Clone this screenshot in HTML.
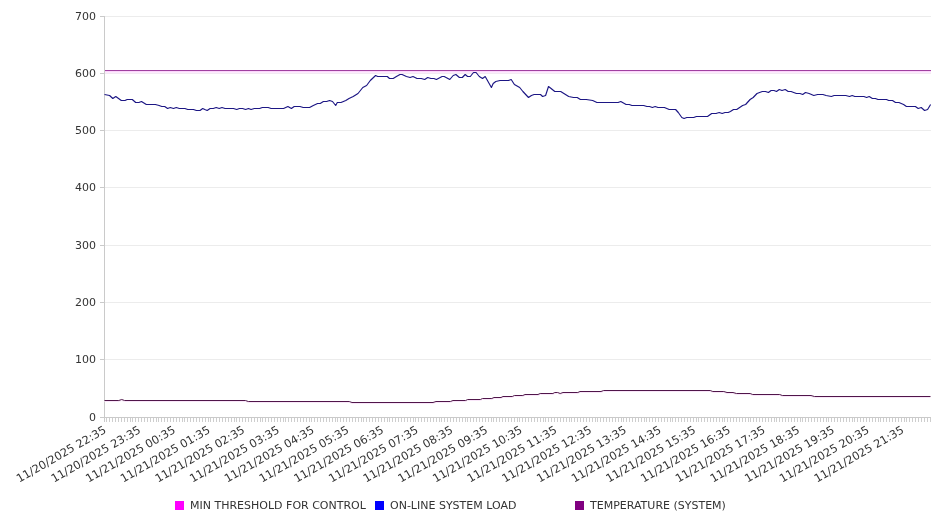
<!DOCTYPE html>
<html><head><meta charset="utf-8"><title>System Load Chart</title>
<style>
html,body{margin:0;padding:0;background:#fff;}
body{width:946px;height:526px;overflow:hidden;}
svg{display:block;}
svg text{font-family:"DejaVu Sans","Liberation Sans",sans-serif;font-size:11px;fill:#333;}
</style></head><body>
<svg width="946" height="526" viewBox="0 0 946 526">
<rect width="946" height="526" fill="#fff"/>
<g stroke="#ececec" stroke-width="1" shape-rendering="crispEdges">
<line x1="105" y1="16.5" x2="931" y2="16.5"/>
<line x1="105" y1="73.5" x2="931" y2="73.5"/>
<line x1="105" y1="130.5" x2="931" y2="130.5"/>
<line x1="105" y1="187.5" x2="931" y2="187.5"/>
<line x1="105" y1="245.5" x2="931" y2="245.5"/>
<line x1="105" y1="302.5" x2="931" y2="302.5"/>
<line x1="105" y1="359.5" x2="931" y2="359.5"/>
</g>
<g stroke="#cacaca" stroke-width="1" shape-rendering="crispEdges">
<line x1="100" y1="16.5" x2="104" y2="16.5"/>
<line x1="100" y1="73.5" x2="104" y2="73.5"/>
<line x1="100" y1="130.5" x2="104" y2="130.5"/>
<line x1="100" y1="187.5" x2="104" y2="187.5"/>
<line x1="100" y1="245.5" x2="104" y2="245.5"/>
<line x1="100" y1="302.5" x2="104" y2="302.5"/>
<line x1="100" y1="359.5" x2="104" y2="359.5"/>
<line x1="100" y1="417.5" x2="104" y2="417.5"/>
</g>
<g stroke="#cecece" stroke-width="1" shape-rendering="crispEdges">
<path d="M104.5,418V422M106.5,418V422M109.5,418V422M112.5,418V422M115.5,418V422M118.5,418V422M121.5,418V422M124.5,418V422M127.5,418V422M130.5,418V422M132.5,418V422M135.5,418V422M138.5,418V422M141.5,418V422M144.5,418V422M147.5,418V422M150.5,418V422M153.5,418V422M156.5,418V422M158.5,418V422M161.5,418V422M164.5,418V422M167.5,418V422M170.5,418V422M173.5,418V422M176.5,418V422M179.5,418V422M182.5,418V422M184.5,418V422M187.5,418V422M190.5,418V422M193.5,418V422M196.5,418V422M199.5,418V422M202.5,418V422M205.5,418V422M208.5,418V422M210.5,418V422M213.5,418V422M216.5,418V422M219.5,418V422M222.5,418V422M225.5,418V422M228.5,418V422M231.5,418V422M234.5,418V422M236.5,418V422M239.5,418V422M242.5,418V422M245.5,418V422M248.5,418V422M251.5,418V422M254.5,418V422M257.5,418V422M260.5,418V422M262.5,418V422M265.5,418V422M268.5,418V422M271.5,418V422M274.5,418V422M277.5,418V422M280.5,418V422M283.5,418V422M285.5,418V422M288.5,418V422M291.5,418V422M294.5,418V422M297.5,418V422M300.5,418V422M303.5,418V422M306.5,418V422M309.5,418V422M311.5,418V422M314.5,418V422M317.5,418V422M320.5,418V422M323.5,418V422M326.5,418V422M329.5,418V422M332.5,418V422M335.5,418V422M337.5,418V422M340.5,418V422M343.5,418V422M346.5,418V422M349.5,418V422M352.5,418V422M355.5,418V422M358.5,418V422M361.5,418V422M363.5,418V422M366.5,418V422M369.5,418V422M372.5,418V422M375.5,418V422M378.5,418V422M381.5,418V422M384.5,418V422M387.5,418V422M389.5,418V422M392.5,418V422M395.5,418V422M398.5,418V422M401.5,418V422M404.5,418V422M407.5,418V422M410.5,418V422M413.5,418V422M415.5,418V422M418.5,418V422M421.5,418V422M424.5,418V422M427.5,418V422M430.5,418V422M433.5,418V422M436.5,418V422M439.5,418V422M441.5,418V422M444.5,418V422M447.5,418V422M450.5,418V422M453.5,418V422M456.5,418V422M459.5,418V422M462.5,418V422M465.5,418V422M467.5,418V422M470.5,418V422M473.5,418V422M476.5,418V422M479.5,418V422M482.5,418V422M485.5,418V422M488.5,418V422M491.5,418V422M493.5,418V422M496.5,418V422M499.5,418V422M502.5,418V422M505.5,418V422M508.5,418V422M511.5,418V422M514.5,418V422M517.5,418V422M519.5,418V422M522.5,418V422M525.5,418V422M528.5,418V422M531.5,418V422M534.5,418V422M537.5,418V422M540.5,418V422M543.5,418V422M545.5,418V422M548.5,418V422M551.5,418V422M554.5,418V422M557.5,418V422M560.5,418V422M563.5,418V422M566.5,418V422M569.5,418V422M571.5,418V422M574.5,418V422M577.5,418V422M580.5,418V422M583.5,418V422M586.5,418V422M589.5,418V422M592.5,418V422M595.5,418V422M597.5,418V422M600.5,418V422M603.5,418V422M606.5,418V422M609.5,418V422M612.5,418V422M615.5,418V422M618.5,418V422M621.5,418V422M623.5,418V422M626.5,418V422M629.5,418V422M632.5,418V422M635.5,418V422M638.5,418V422M641.5,418V422M644.5,418V422M646.5,418V422M649.5,418V422M652.5,418V422M655.5,418V422M658.5,418V422M661.5,418V422M664.5,418V422M667.5,418V422M670.5,418V422M672.5,418V422M675.5,418V422M678.5,418V422M681.5,418V422M684.5,418V422M687.5,418V422M690.5,418V422M693.5,418V422M696.5,418V422M698.5,418V422M701.5,418V422M704.5,418V422M707.5,418V422M710.5,418V422M713.5,418V422M716.5,418V422M719.5,418V422M722.5,418V422M724.5,418V422M727.5,418V422M730.5,418V422M733.5,418V422M736.5,418V422M739.5,418V422M742.5,418V422M745.5,418V422M748.5,418V422M750.5,418V422M753.5,418V422M756.5,418V422M759.5,418V422M762.5,418V422M765.5,418V422M768.5,418V422M771.5,418V422M774.5,418V422M776.5,418V422M779.5,418V422M782.5,418V422M785.5,418V422M788.5,418V422M791.5,418V422M794.5,418V422M797.5,418V422M800.5,418V422M802.5,418V422M805.5,418V422M808.5,418V422M811.5,418V422M814.5,418V422M817.5,418V422M820.5,418V422M823.5,418V422M826.5,418V422M828.5,418V422M831.5,418V422M834.5,418V422M837.5,418V422M840.5,418V422M843.5,418V422M846.5,418V422M849.5,418V422M852.5,418V422M854.5,418V422M857.5,418V422M860.5,418V422M863.5,418V422M866.5,418V422M869.5,418V422M872.5,418V422M875.5,418V422M878.5,418V422M880.5,418V422M883.5,418V422M886.5,418V422M889.5,418V422M892.5,418V422M895.5,418V422M898.5,418V422M901.5,418V422M904.5,418V422M906.5,418V422M909.5,418V422M912.5,418V422M915.5,418V422M918.5,418V422M921.5,418V422M924.5,418V422M927.5,418V422M930.5,418V422" fill="none"/>
</g>
<g stroke="#cacaca" stroke-width="1" shape-rendering="crispEdges">
<line x1="104.5" y1="16" x2="104.5" y2="422"/>
<line x1="100" y1="417.5" x2="931" y2="417.5"/>
</g>
<text x="96" y="19.6" text-anchor="end">700</text>
<text x="96" y="76.6" text-anchor="end">600</text>
<text x="96" y="133.6" text-anchor="end">500</text>
<text x="96" y="190.6" text-anchor="end">400</text>
<text x="96" y="248.6" text-anchor="end">300</text>
<text x="96" y="305.6" text-anchor="end">200</text>
<text x="96" y="362.6" text-anchor="end">100</text>
<text x="96" y="420.6" text-anchor="end">0</text>
<text transform="translate(106.9,432.2) rotate(-30)" text-anchor="end" font-size="11.3" style="font-size:11.3px">11/20/2025 22:35</text>
<text transform="translate(141.6,432.2) rotate(-30)" text-anchor="end" font-size="11.3" style="font-size:11.3px">11/20/2025 23:35</text>
<text transform="translate(176.3,432.2) rotate(-30)" text-anchor="end" font-size="11.3" style="font-size:11.3px">11/21/2025 00:35</text>
<text transform="translate(211.0,432.2) rotate(-30)" text-anchor="end" font-size="11.3" style="font-size:11.3px">11/21/2025 01:35</text>
<text transform="translate(245.6,432.2) rotate(-30)" text-anchor="end" font-size="11.3" style="font-size:11.3px">11/21/2025 02:35</text>
<text transform="translate(280.3,432.2) rotate(-30)" text-anchor="end" font-size="11.3" style="font-size:11.3px">11/21/2025 03:35</text>
<text transform="translate(315.0,432.2) rotate(-30)" text-anchor="end" font-size="11.3" style="font-size:11.3px">11/21/2025 04:35</text>
<text transform="translate(349.7,432.2) rotate(-30)" text-anchor="end" font-size="11.3" style="font-size:11.3px">11/21/2025 05:35</text>
<text transform="translate(384.4,432.2) rotate(-30)" text-anchor="end" font-size="11.3" style="font-size:11.3px">11/21/2025 06:35</text>
<text transform="translate(419.1,432.2) rotate(-30)" text-anchor="end" font-size="11.3" style="font-size:11.3px">11/21/2025 07:35</text>
<text transform="translate(453.8,432.2) rotate(-30)" text-anchor="end" font-size="11.3" style="font-size:11.3px">11/21/2025 08:35</text>
<text transform="translate(488.4,432.2) rotate(-30)" text-anchor="end" font-size="11.3" style="font-size:11.3px">11/21/2025 09:35</text>
<text transform="translate(523.1,432.2) rotate(-30)" text-anchor="end" font-size="11.3" style="font-size:11.3px">11/21/2025 10:35</text>
<text transform="translate(557.8,432.2) rotate(-30)" text-anchor="end" font-size="11.3" style="font-size:11.3px">11/21/2025 11:35</text>
<text transform="translate(592.5,432.2) rotate(-30)" text-anchor="end" font-size="11.3" style="font-size:11.3px">11/21/2025 12:35</text>
<text transform="translate(627.2,432.2) rotate(-30)" text-anchor="end" font-size="11.3" style="font-size:11.3px">11/21/2025 13:35</text>
<text transform="translate(661.9,432.2) rotate(-30)" text-anchor="end" font-size="11.3" style="font-size:11.3px">11/21/2025 14:35</text>
<text transform="translate(696.5,432.2) rotate(-30)" text-anchor="end" font-size="11.3" style="font-size:11.3px">11/21/2025 15:35</text>
<text transform="translate(731.2,432.2) rotate(-30)" text-anchor="end" font-size="11.3" style="font-size:11.3px">11/21/2025 16:35</text>
<text transform="translate(765.9,432.2) rotate(-30)" text-anchor="end" font-size="11.3" style="font-size:11.3px">11/21/2025 17:35</text>
<text transform="translate(800.6,432.2) rotate(-30)" text-anchor="end" font-size="11.3" style="font-size:11.3px">11/21/2025 18:35</text>
<text transform="translate(835.3,432.2) rotate(-30)" text-anchor="end" font-size="11.3" style="font-size:11.3px">11/21/2025 19:35</text>
<text transform="translate(870.0,432.2) rotate(-30)" text-anchor="end" font-size="11.3" style="font-size:11.3px">11/21/2025 20:35</text>
<text transform="translate(904.7,432.2) rotate(-30)" text-anchor="end" font-size="11.3" style="font-size:11.3px">11/21/2025 21:35</text>
<g shape-rendering="crispEdges">
<line x1="105" y1="71.5" x2="931" y2="71.5" stroke="#fbd6fb"/>
<line x1="105" y1="72.5" x2="931" y2="72.5" stroke="#fdeafd"/>
<line x1="105" y1="73.5" x2="931" y2="73.5" stroke="#f3eaf3"/>
<line x1="105" y1="70.5" x2="931" y2="70.5" stroke="#a040a0"/>
</g>
<path d="M104.5,401.5 L118.8,401.5 L121.7,400.5 L124.6,401.5 L245.4,401.5 L248.3,402.5 L349.2,402.5 L352.0,403.5 L433.0,403.5 L436.0,402.5 L450.4,402.5 L453.0,401.5 L465.6,401.5 L467.7,400.5 L480.4,400.5 L482.5,399.5 L491.8,399.5 L494.0,398.5 L501.0,398.5 L503.0,397.5 L512.3,397.5 L514.4,396.5 L522.8,396.5 L525.0,395.5 L538.0,395.5 L540.2,394.5 L552.9,394.5 L554.8,393.5 L557.7,393.5 L560.2,394.5 L563.0,393.5 L577.8,393.5 L580.0,392.5 L601.0,392.5 L603.7,391.5 L710.2,391.5 L712.8,392.5 L723.8,392.5 L727.0,393.5 L733.0,393.5 L736.4,394.5 L750.1,394.5 L752.7,395.5 L779.7,395.5 L782.3,396.5 L811.0,396.5 L814.4,397.5 L930.5,397.5" fill="none" stroke="#f9e6f9" stroke-width="1"/>
<path d="M104.5,400.5 L118.8,400.5 L121.7,399.5 L124.6,400.5 L245.4,400.5 L248.3,401.5 L349.2,401.5 L352.0,402.5 L433.0,402.5 L436.0,401.5 L450.4,401.5 L453.0,400.5 L465.6,400.5 L467.7,399.5 L480.4,399.5 L482.5,398.5 L491.8,398.5 L494.0,397.5 L501.0,397.5 L503.0,396.5 L512.3,396.5 L514.4,395.5 L522.8,395.5 L525.0,394.5 L538.0,394.5 L540.2,393.5 L552.9,393.5 L554.8,392.5 L557.7,392.5 L560.2,393.5 L563.0,392.5 L577.8,392.5 L580.0,391.5 L601.0,391.5 L603.7,390.5 L710.2,390.5 L712.8,391.5 L723.8,391.5 L727.0,392.5 L733.0,392.5 L736.4,393.5 L750.1,393.5 L752.7,394.5 L779.7,394.5 L782.3,395.5 L811.0,395.5 L814.4,396.5 L930.5,396.5" fill="none" stroke="#50164a" stroke-width="1" stroke-linejoin="round"/>
<path d="M104.5,94.5 L109.6,95.5 L112.8,98.5 L115.8,96.5 L121.3,100.5 L125.0,100.5 L127.2,99.5 L132.3,99.5 L135.7,102.5 L138.9,102.5 L141.5,101.5 L146.3,104.5 L155.4,104.5 L159.1,105.5 L161.8,106.5 L164.7,106.5 L167.6,108.5 L170.3,107.5 L173.5,108.5 L176.3,107.5 L179.3,108.5 L184.9,108.5 L187.8,109.5 L193.5,109.5 L196.4,110.5 L200.0,110.5 L202.7,108.5 L204.8,109.5 L207.2,110.5 L210.1,108.5 L213.3,108.5 L216.2,107.5 L219.2,108.5 L222.0,107.5 L225.0,108.5 L233.5,108.5 L236.7,109.5 L239.4,108.5 L242.6,108.5 L245.6,109.5 L248.5,108.5 L251.1,109.5 L254.3,108.5 L259.6,108.5 L262.3,107.5 L268.2,107.5 L271.1,108.5 L283.6,108.5 L287.9,106.5 L291.4,108.5 L294.2,106.5 L300.0,106.5 L303.2,107.5 L309.6,107.5 L313.3,105.5 L317.6,103.5 L320.2,103.5 L323.4,101.5 L326.6,101.5 L329.6,100.5 L332.5,101.5 L335.7,105.5 L337.3,102.5 L341.0,102.5 L345.8,100.5 L349.0,98.5 L353.2,96.5 L358.0,93.5 L362.8,87.5 L366.6,85.5 L370.3,80.5 L375.6,75.5 L377.7,76.5 L387.3,76.5 L389.5,78.5 L393.2,78.5 L396.4,76.5 L400.0,74.5 L402.1,74.5 L406.4,76.5 L410.1,77.5 L413.0,76.5 L417.0,78.5 L421.3,78.5 L424.7,79.5 L427.7,77.5 L430.9,78.5 L433.9,78.5 L436.4,79.5 L442.1,76.5 L444.2,76.5 L449.8,79.5 L453.2,75.5 L455.9,74.5 L459.4,77.5 L462.3,77.5 L465.2,74.5 L467.6,76.5 L470.3,76.5 L473.5,72.5 L476.1,72.5 L479.3,76.5 L482.5,78.5 L485.2,76.5 L491.4,87.5 L493.2,83.5 L495.8,81.5 L500.0,80.5 L508.5,80.5 L511.2,79.5 L514.4,84.5 L519.7,87.5 L522.9,91.5 L528.5,97.5 L531.4,95.5 L534.1,94.5 L540.5,94.5 L542.6,96.5 L545.6,95.5 L548.5,86.5 L551.1,88.5 L554.8,91.5 L560.7,91.5 L563.9,93.5 L568.7,96.5 L573.5,97.5 L577.2,97.5 L580.4,99.5 L586.3,99.5 L592.7,100.5 L596.9,102.5 L600.0,102.5 L618.1,102.5 L620.8,101.5 L626.1,104.5 L629.3,104.5 L631.9,105.5 L643.7,105.5 L646.9,106.5 L649.5,106.5 L652.4,107.5 L655.2,106.5 L658.0,107.5 L664.4,107.5 L669.2,109.5 L675.6,109.5 L678.3,112.5 L681.8,117.5 L684.1,118.5 L686.8,117.5 L693.7,117.5 L696.4,116.5 L700.0,116.5 L707.5,116.5 L711.7,113.5 L716.0,113.5 L719.2,112.5 L722.2,113.5 L725.0,112.5 L728.2,112.5 L730.4,111.5 L733.5,109.5 L736.7,109.5 L742.6,105.5 L745.6,104.5 L750.1,99.5 L753.2,97.5 L757.0,93.5 L759.6,92.5 L762.3,91.5 L765.5,91.5 L768.4,92.5 L771.1,90.5 L774.0,90.5 L776.5,91.5 L779.3,89.5 L782.0,90.5 L785.2,89.5 L788.2,91.5 L791.1,91.5 L793.7,92.5 L796.4,93.5 L800.0,93.5 L802.7,94.5 L805.5,92.5 L809.1,93.5 L813.8,95.5 L817.6,94.5 L822.9,94.5 L826.1,95.5 L831.4,96.5 L834.1,95.5 L845.8,95.5 L849.5,96.5 L852.2,95.5 L854.8,96.5 L863.9,96.5 L866.6,97.5 L869.2,96.5 L872.4,98.5 L875.4,98.5 L878.0,99.5 L886.5,99.5 L888.7,100.5 L892.5,100.5 L895.5,102.5 L898.9,102.5 L903.6,104.5 L906.4,106.5 L915.4,106.5 L918.2,108.5 L921.2,107.5 L924.6,110.5 L927.6,109.5 L930.6,104.5" fill="none" stroke="#1c1684" stroke-width="1.15" stroke-linejoin="round"/>
<rect x="175" y="501" width="9" height="9" fill="#ff00ff" shape-rendering="crispEdges"/>
<text x="190" y="509.3">MIN THRESHOLD FOR CONTROL</text>
<rect x="375" y="501" width="9" height="9" fill="#0000ff" shape-rendering="crispEdges"/>
<text x="390" y="509.3">ON-LINE SYSTEM LOAD</text>
<rect x="575" y="501" width="9" height="9" fill="#800080" shape-rendering="crispEdges"/>
<text x="590" y="509.3">TEMPERATURE (SYSTEM)</text>
</svg>
</body></html>
